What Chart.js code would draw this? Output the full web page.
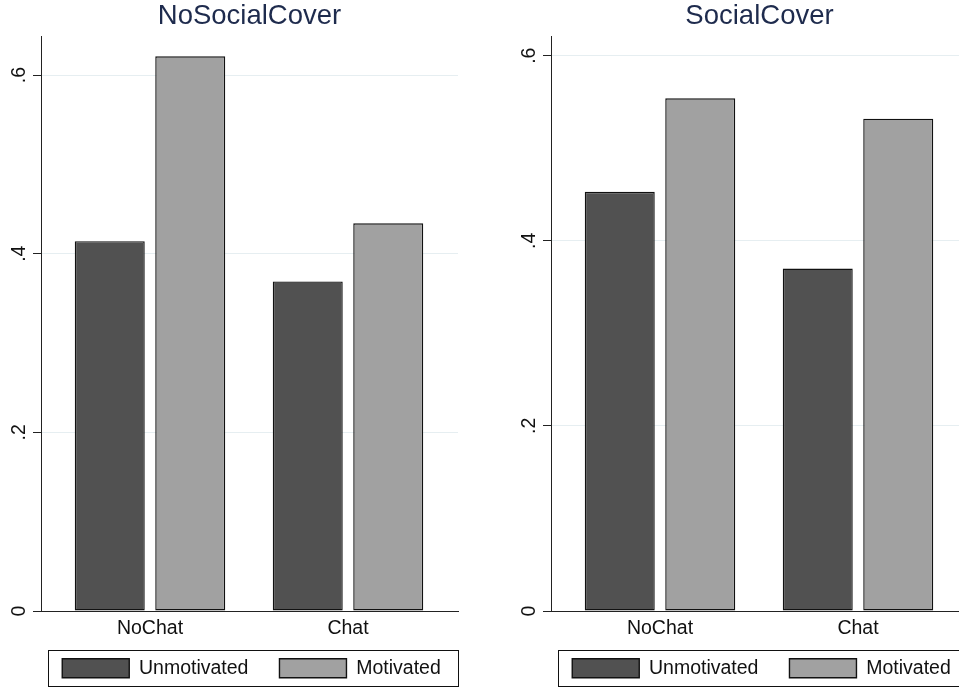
<!DOCTYPE html>
<html>
<head>
<meta charset="utf-8">
<script src="https://cdn.jsdelivr.net/npm/chart.js@4/dist/chart.umd.min.js"></script>
<style>
  html, body { margin: 0; padding: 0; background: #fff; overflow: hidden; width: 959px; height: 688px; }
  canvas { position: absolute; top: 0; }
  #c1 { left: 0; }
  #c2 { left: 510px; }
</style>
</head>
<body>
<canvas id="c1" width="480" height="688"></canvas>
<canvas id="c2" width="480" height="688"></canvas>
<script>
// ---- data ----
const categories = ['NoChat', 'Chat'];
const seriesNames = ['Unmotivated', 'Motivated'];
const panelTitles = ['NoSocialCover', 'SocialCover'];
const noSocialUnmotivated = [0.414, 0.369];
const noSocialMotivated   = [0.621, 0.434];
const socialUnmotivated   = [0.453, 0.370];
const socialMotivated     = [0.554, 0.532];
const yTickValues = [0, 0.2, 0.4, 0.6];
const yTickLabels = ['0', '.2', '.4', '.6'];
const yAxisMax = [0.6437, 0.6213];

const FONT = "'Liberation Sans', Arial, Helvetica, sans-serif";
const DARK = '#515151', LIGHT = '#a1a1a1', EDGE = '#111111';

const rotatedYLabels = {
  id: 'rotatedYLabels',
  afterDraw(chart) {
    const ys = chart.scales.y, ctx = chart.ctx;
    ctx.save();
    ctx.fillStyle = '#111';
    ctx.font = '19.5px ' + FONT;
    ctx.textAlign = 'center';
    ctx.textBaseline = 'alphabetic';
    yTickValues.forEach((v, i) => {
      const py = ys.getPixelForValue(v);
      ctx.save();
      ctx.translate(chart.chartArea.left - 16, py);
      ctx.rotate(-Math.PI / 2);
      ctx.fillText(yTickLabels[i], 0, 0);
      ctx.restore();
    });
    ctx.restore();
  }
};

const legendFrame = {
  id: 'legendFrame',
  afterDraw(chart) {
    const hb = chart.legend && chart.legend.legendHitBoxes;
    if (!hb || !hb.length) return;
    const ctx = chart.ctx;
    const left = Math.round(hb[0].left - 14) + 0.5;
    const top = Math.round(hb[0].top - 9) + 0.5;
    const right = Math.round(chart.chartArea.right) + 0.5;
    ctx.save();
    ctx.strokeStyle = '#111';
    ctx.lineWidth = 1;
    ctx.strokeRect(left, top, right - left, 36);
    ctx.restore();
  }
};

function pts(arr) { return arr.map((v, i) => ({ x: i + 1, y: v })); }

function makeChart(id, title, unmot, mot, ymax) {
  return new Chart(document.getElementById(id), {
    type: 'bar',
    data: {
      datasets: [
        { label: seriesNames[0], data: pts(unmot), backgroundColor: DARK, borderColor: EDGE, borderWidth: 1.4, borderSkipped: false },
        { label: seriesNames[1], data: pts(mot), backgroundColor: LIGHT, borderColor: EDGE, borderWidth: 1.4, borderSkipped: false }
      ]
    },
    options: {
      responsive: false,
      animation: false,
      devicePixelRatio: 1,
      layout: { padding: { left: 23, right: 0, top: 0, bottom: 0 } },
      categoryPercentage: 0.8131,
      barPercentage: 0.8696,
      plugins: {
        tooltip: { enabled: false },
        title: {
          display: true, text: title, fullSize: false,
          color: '#1e2b4d',
          font: { family: FONT, size: 27.5, weight: 'normal' },
          padding: { top: 0, bottom: 3 }
        },
        legend: {
          display: true, position: 'bottom', fullSize: true,
          title: { display: true, text: '', font: { size: 1 }, padding: { top: -20.4, bottom: 0 } },
          labels: {
            boxWidth: 67, boxHeight: 19, padding: 31,
            color: '#111',
            font: { family: FONT, size: 19.5 }
          }
        }
      },
      scales: {
        x: {
          type: 'linear',
          offset: false,
          min: 0.4495, max: 2.5556,
          afterBuildTicks: (s) => { s.ticks = categories.map((c, i) => ({ value: i + 1 })); },
          afterFit: (s) => { s.height = 35.7; },
          grid: { display: false, drawTicks: false, offset: false },
          border: { display: true, color: '#222', width: 1 },
          ticks: {
            padding: 5.5, color: '#111',
            font: { family: FONT, size: 19.5 },
            autoSkip: false, maxRotation: 0, minRotation: 0,
            callback: (v) => categories[v - 1] ?? ''
          }
        },
        y: {
          type: 'linear',
          min: 0, max: ymax,
          afterBuildTicks: (s) => { s.ticks = yTickValues.map(v => ({ value: v })); },
          afterFit: (s) => { s.width = 18; },
          grid: { display: true, color: '#e6eef1', lineWidth: 1, drawTicks: true, tickLength: 8, tickColor: '#222' },
          border: { display: true, color: '#222', width: 1 },
          ticks: { display: false }
        },
        yR: {
          type: 'linear', axis: 'y', position: 'right', display: true,
          afterFit: (s) => { s.width = 22; },
          grid: { display: false, drawTicks: false },
          border: { display: false },
          ticks: { display: false }
        }
      }
    },
    plugins: [rotatedYLabels, legendFrame]
  });
}

makeChart('c1', panelTitles[0], noSocialUnmotivated, noSocialMotivated, yAxisMax[0]);
makeChart('c2', panelTitles[1], socialUnmotivated, socialMotivated, yAxisMax[1]);
</script>
</body>
</html>
